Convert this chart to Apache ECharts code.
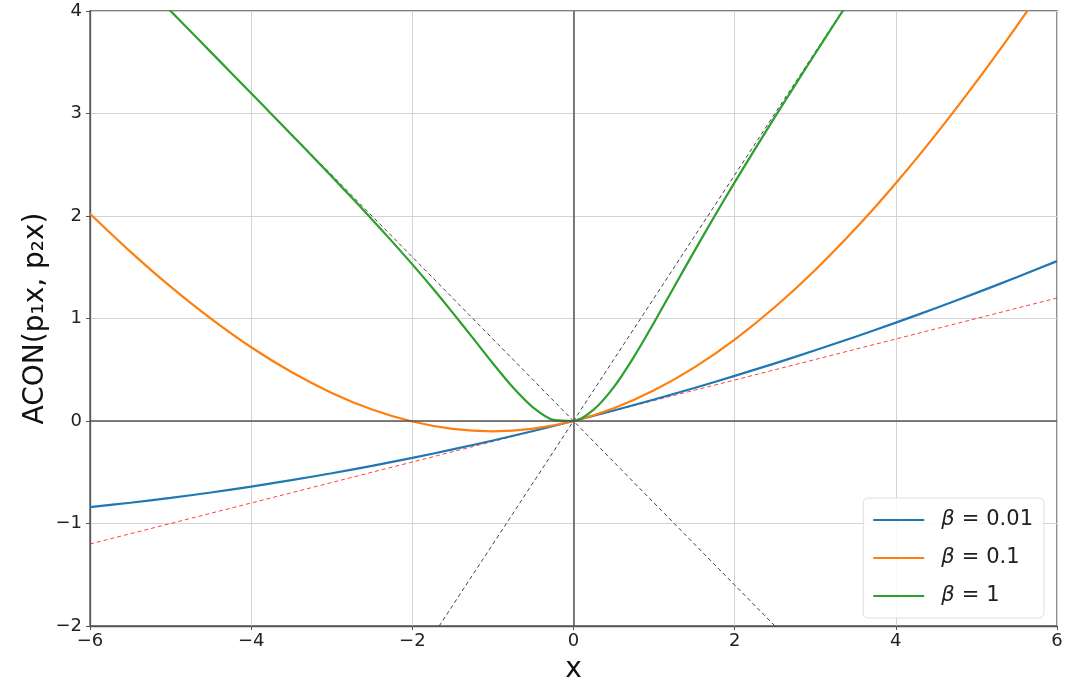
<!DOCTYPE html>
<html>
<head>
<meta charset="utf-8">
<script src="https://cdn.jsdelivr.net/npm/echarts@6/dist/echarts.min.js"></script>
<style>
  html, body { margin: 0; padding: 0; background: #fff; }
  #chart { width: 1080px; height: 689px; }
</style>
</head>
<body>
<div id="chart"></div>
<script>
// x samples (fine grid for beta = 1, coarse for the smoother curves)
const xsFine = [-6, -5.75, -5.5, -5.25, -5, -4.75, -4.5, -4.25, -4, -3.75, -3.5, -3.25, -3, -2.75, -2.5, -2.25,
  -2, -1.75, -1.5, -1.25, -1, -0.75, -0.5, -0.25, 0, 0.25, 0.5, 0.75, 1, 1.25, 1.5, 1.75,
  2, 2.25, 2.5, 2.75, 3, 3.25, 3.5, 3.75, 4, 4.25, 4.5, 4.75, 5, 5.25, 5.5, 5.75, 6]
const xsCoarse = [-6, -5.5, -5, -4.5, -4, -3.5, -3, -2.5, -2, -1.5, -1, -0.5, 0,
  0.5, 1, 1.5, 2, 2.5, 3, 3.5, 4, 4.5, 5, 5.5, 6]

const beta001 = [-0.8404, -0.7978, -0.7502, -0.6976, -0.6401, -0.5775, -0.51, -0.4375, -0.36, -0.2775, -0.19, -0.0975, 0,
  0.1025, 0.21, 0.3225, 0.44, 0.5625, 0.69, 0.8225, 0.9599, 1.1024, 1.2498, 1.4022, 1.5596]
const beta01 = [2.0223, 1.6529, 1.3106, 0.9986, 0.7198, 0.4773, 0.2739, 0.1123, -0.0052, -0.0767, -0.1003, -0.075, 0,
  0.125, 0.2997, 0.5233, 0.7948, 1.1123, 1.4739, 1.8773, 2.3198, 2.7986, 3.3106, 3.8529, 4.4223]
const beta1 = [4.8, 4.5999, 4.3998, 4.1997, 3.9995, 3.7993, 3.5989, 3.3983, 3.1973, 2.9959, 2.7936, 2.5902,
  2.3852, 2.1776, 1.9665, 1.7501, 1.5281, 1.2974, 1.0577, 0.8104, 0.5616, 0.3264, 0.1311, 0.0112, 0,
  0.1112, 0.3311, 0.6264, 0.9616, 1.3104, 1.6577, 1.9974, 2.3281, 2.6501, 2.9665, 3.2776, 3.5852,
  3.8902, 4.1936, 4.4959, 4.7973, 5.0983, 5.3989, 5.6993, 5.9995, 6.2997, 6.5998, 6.8999, 7.2]

// reference lines: p1*x, p2*x and their mean
const lineP1 = [[-6, -7.2], [6, 7.2]]
const lineP2 = [[-6, 4.8], [6, -4.8]]
const lineMean = [[-6, -1.2], [6, 1.2]]

const seriesNames = ['β = 0.01', 'β = 0.1', 'β = 1']
const betaLabels = ['0.01', '0.1', '1']
const colors = ['#1f77b4', '#ff7f0e', '#2ca02c']

const FONT = 'DejaVu Sans'
const zip = (xs, ys) => xs.map((x, i) => [x, ys[i]])
const minus = v => String(v).replace('-', '\u2212')

const chart = echarts.init(document.getElementById('chart'), null, { renderer: 'canvas' })

const axisCommon = {
  type: 'value',
  axisLine: { show: true, onZero: false, lineStyle: { color: '#555', width: 1.3 } },
  axisTick: { show: true, inside: false, length: 4, lineStyle: { color: '#555', width: 1 } },
  axisLabel: { color: '#222', fontSize: 18, fontFamily: FONT, formatter: minus },
  splitLine: { show: true, lineStyle: { color: '#d3d3d3', width: 1 } },
  nameTextStyle: { color: '#111', fontSize: 28, fontFamily: FONT },
}

const dashed = (data, color, width) => ({
  type: 'line', data, symbol: 'none', silent: true, z: 1,
  lineStyle: { color, width, type: [4, 3] },
})

const curve = (name, data, color) => ({
  name, type: 'line', data, symbol: 'none', smooth: 0.3, z: 3,
  lineStyle: { color, width: 2.2 },
  itemStyle: { color },
})

const legendText = { fontSize: 21, fontFamily: FONT, color: '#222' }

chart.setOption({
  backgroundColor: '#fff',
  animation: false,
  grid: {
    left: 90, right: 23, top: 11, bottom: 57,
    show: true, borderColor: '#555', borderWidth: 1.3,
  },
  xAxis: {
    ...axisCommon, min: -6, max: 6, interval: 2,
    name: 'x', nameLocation: 'middle', nameGap: 30,
    axisLabel: { ...axisCommon.axisLabel, margin: 6 },
  },
  yAxis: {
    ...axisCommon, min: -2, max: 4, interval: 1,
    name: 'ACON(p\u2081x, p\u2082x)', nameLocation: 'middle', nameGap: 40, nameRotate: 90,
    nameMoveOverlap: false,
    axisLabel: { ...axisCommon.axisLabel, margin: 8 },
  },
  legend: {
    data: seriesNames, orient: 'vertical',
    right: 36, bottom: 71,
    icon: 'rect', itemWidth: 51, itemHeight: 2.2, itemGap: 14,
    padding: [10, 11, 10, 10],
    backgroundColor: 'rgba(255,255,255,0.85)', borderColor: '#ddd', borderWidth: 1, borderRadius: 5,
    textStyle: {
      ...legendText, padding: [0, 0, 0, 12], lineHeight: 24,
      rich: {
        i: { ...legendText, fontStyle: 'italic' },
        e: { ...legendText, padding: [0, 7, 0, 7] },
        v: { ...legendText },
      },
    },
    formatter: n => '{i|β}{e|=}{v|' + betaLabels[seriesNames.indexOf(n)] + '}',
  },
  series: [
    {
      ...dashed(lineMean, 'rgba(255,0,0,0.75)', 1),
      markLine: {
        silent: true, symbol: 'none', label: { show: false },
        lineStyle: { color: '#555', width: 1.5, type: 'solid' },
        data: [{ xAxis: 0 }, { yAxis: 0 }],
      },
    },
    dashed(lineP1, '#444', 1),
    dashed(lineP2, '#444', 1),
    curve(seriesNames[0], zip(xsCoarse, beta001), colors[0]),
    curve(seriesNames[1], zip(xsCoarse, beta01), colors[1]),
    curve(seriesNames[2], zip(xsFine, beta1), colors[2]),
  ],
})
</script>
</body>
</html>
